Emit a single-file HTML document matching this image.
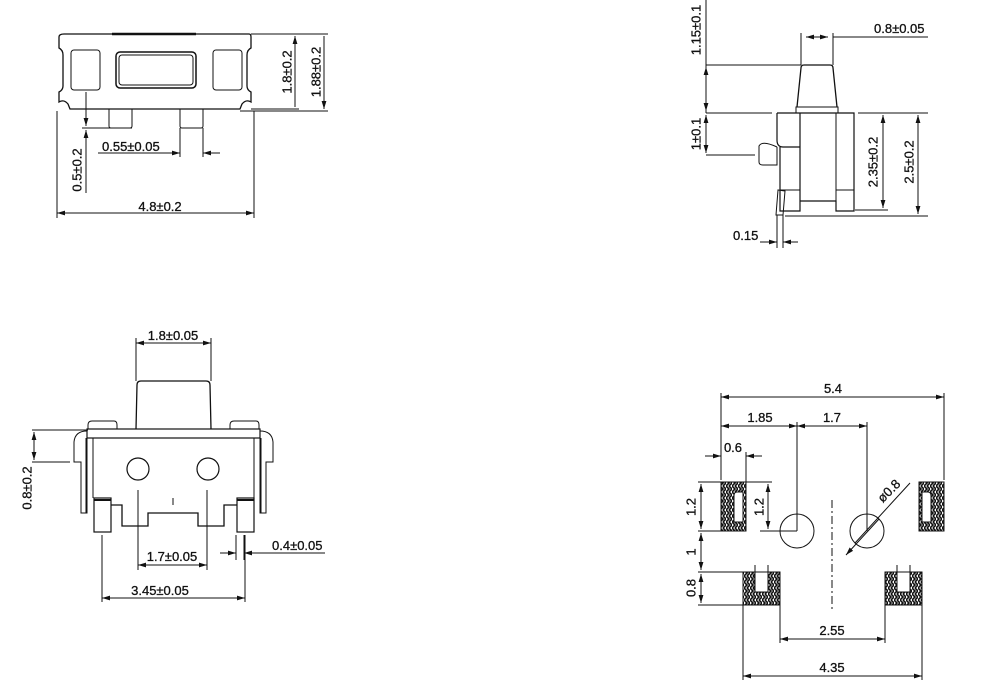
<!DOCTYPE html>
<html><head><meta charset="utf-8"><style>
html,body{margin:0;padding:0;background:#fff;}
svg{display:block;}
text{font-family:"Liberation Sans",sans-serif;font-size:13px;fill:#111;stroke:#111;stroke-width:0.3;}
</style></head><body>
<svg width="985" height="690" viewBox="0 0 985 690" xmlns="http://www.w3.org/2000/svg">
<defs>
<marker id="a" viewBox="0 0 10 6" refX="10" refY="3" markerWidth="8" markerHeight="5" orient="auto-start-reverse" markerUnits="userSpaceOnUse"><path d="M0,0L10,3L0,6z" fill="#111"/></marker>
<pattern id="h" width="6" height="6" patternUnits="userSpaceOnUse"><rect width="6" height="6" fill="#fff"/><path d="M0,0L3,3L0,6M3,0L6,3L3,6" stroke="#111" stroke-width="1.6" fill="none"/></pattern>
</defs>
<g fill="none" stroke="#111" stroke-width="1">
<path d="M64,34 H249 Q251,34 251,37 V48 Q247,50 247,55 V86 Q247,90 251,92 V102 Q246,99 242,104 L240,109 H70 L68,104 Q64,99 59,102 V92 Q63,90 63,86 V55 Q63,50 59,48 V37 Q59,34 64,34z" stroke-width="1.3"/>
<path d="M112,34H196" stroke-width="2.5"/>
<rect x="71" y="50" width="29" height="40" rx="3"/>
<rect x="116" y="52" width="80" height="36" rx="4" stroke-width="1.5"/>
<rect x="119" y="55" width="74" height="30" rx="3"/>
<rect x="213" y="50" width="29" height="40" rx="3"/>
<path d="M109,109V126Q109,128 111,128H130Q132,128 132,126V109M180,109V126Q180,128 182,128H201Q203,128 203,126V109"/>
<path d="M251,34H328M251,109H299M240,111H328"/>
<path d="M295,36V107M324,36V109" marker-start="url(#a)" marker-end="url(#a)"/>
<path d="M82,128H132"/>
<path d="M86,92V126" marker-end="url(#a)"/>
<path d="M86,130V193" marker-start="url(#a)"/>
<path d="M180,128V157M203,128V157"/>
<path d="M98,153H180" marker-end="url(#a)"/>
<path d="M203,153H220" marker-start="url(#a)"/>
<path d="M57,111V218M254,111V218"/>
<path d="M57,213H254" marker-start="url(#a)" marker-end="url(#a)"/>
</g>
<g>
<text x="288" y="72" transform="rotate(-90 288 72)" text-anchor="middle" dominant-baseline="middle">1.8±0.2</text>
<text x="317" y="72" transform="rotate(-90 317 72)" text-anchor="middle" dominant-baseline="middle">1.88±0.2</text>
<text x="78" y="170" transform="rotate(-90 78 170)" text-anchor="middle" dominant-baseline="middle">0.5±0.2</text>
<text x="102" y="151">0.55±0.05</text>
<text x="160" y="211" text-anchor="middle">4.8±0.2</text>
</g>

<g fill="none" stroke="#111" stroke-width="1">
<path d="M797,107 L801,68 Q801,65 804,65 H830 Q833,65 833,68 L837,107" stroke-width="1.3"/>
<rect x="796" y="107" width="42" height="6"/>
<path d="M777,113H854V211H836V201H800V113M777,113V140Q777,147 783,147H800M800,201V211H780V147" stroke-width="1.2"/>
<path d="M836,113V211M836,190H854M780,190H800"/>
<path d="M777,147Q762,140 759,146V162Q759,165 763,165H777V147"/>
<path d="M778,190L776,215H783L785,191z"/>
<path d="M706,65H801M706,113H772M706,155H755M855,210H888M785,216H928M858,113H928M801,33V65M833,33V65M833,37H928"/>
<path d="M806,37H828" marker-start="url(#a)" marker-end="url(#a)"/>
<path d="M706,0V113" />
<path d="M706,67V111" marker-start="url(#a)" marker-end="url(#a)"/>
<path d="M706,115V153" marker-start="url(#a)" marker-end="url(#a)"/>
<path d="M883,115V208" marker-start="url(#a)" marker-end="url(#a)"/>
<path d="M918,115V214" marker-start="url(#a)" marker-end="url(#a)"/>
<path d="M777,215V248M783,215V248"/>
<path d="M760,242H777" marker-end="url(#a)"/>
<path d="M783,242H798" marker-start="url(#a)"/>
</g>
<g>
<text x="697" y="30" transform="rotate(-90 697 30)" text-anchor="middle" dominant-baseline="middle">1.15±0.1</text>
<text x="697" y="134" transform="rotate(-90 697 134)" text-anchor="middle" dominant-baseline="middle">1±0.1</text>
<text x="874" y="162" transform="rotate(-90 874 162)" text-anchor="middle" dominant-baseline="middle">2.35±0.2</text>
<text x="910" y="162" transform="rotate(-90 910 162)" text-anchor="middle" dominant-baseline="middle">2.5±0.2</text>
<text x="874" y="33">0.8±0.05</text>
<text x="733" y="240">0.15</text>
</g>

<g fill="none" stroke="#111" stroke-width="1">
<path d="M136,429 L137,385 Q137,381 141,381 H206 Q210,381 210,385 L211,429" stroke-width="1.3"/>
<rect x="87" y="429" width="173" height="9" stroke-width="1.2"/>
<path d="M88,429V425Q88,421 92,421H114Q117,421 117,425V429M230,429V425Q230,421 234,421H256Q259,421 259,425V429"/>
<path d="M87,431Q75,431 74,442V462H81V513H87V438M93,438V498M260,431Q272,431 273,442V462H266V513H260V438M254,438V498"/>
<path d="M86,438V513M261,438V513"/>
<rect x="94" y="498" width="17" height="34" stroke-width="1.2"/>
<rect x="237" y="498" width="17" height="34" stroke-width="1.2"/>
<path d="M94,500H111M237,500H254" stroke-width="2"/>
<path d="M111,505H122V526H148V513H198V526H224V505H237" stroke-width="1.3"/>
<circle cx="138" cy="469" r="11" stroke-width="1.2"/>
<circle cx="208" cy="469" r="11" stroke-width="1.2"/>
<path d="M173,498V505"/>
<path d="M136,338V381M211,338V381"/>
<path d="M136,343H211" marker-start="url(#a)" marker-end="url(#a)"/>
<path d="M32,430H88M32,462H70"/>
<path d="M34,432V460" marker-start="url(#a)" marker-end="url(#a)"/>
<path d="M138,490V570M207,490V570"/>
<path d="M138,565H207" marker-start="url(#a)" marker-end="url(#a)"/>
<path d="M102,535V602M245,535V602"/>
<path d="M102,598H245" marker-start="url(#a)" marker-end="url(#a)"/>
<path d="M236,535V560M244,535V560"/>
<path d="M220,553H236" marker-end="url(#a)"/>
<path d="M244,553H325" marker-start="url(#a)"/>
</g>
<g>
<text x="173" y="340" text-anchor="middle">1.8±0.05</text>
<text x="28" y="488" transform="rotate(-90 28 488)" text-anchor="middle" dominant-baseline="middle">0.8±0.2</text>
<text x="172" y="561" text-anchor="middle">1.7±0.05</text>
<text x="160" y="595" text-anchor="middle">3.45±0.05</text>
<text x="272" y="550">0.4±0.05</text>
</g>

<g stroke="#111" stroke-width="1">
<rect x="721" y="482" width="25" height="49" fill="url(#h)"/>
<path d="M743,492H737Q734,492 734,496V522H743z" fill="#fff"/>
<rect x="919" y="482" width="25" height="49" fill="url(#h)"/>
<path d="M922,492H928Q931,492 931,496V522H922z" fill="#fff"/>
<rect x="743" y="572" width="37" height="33" fill="url(#h)"/>
<rect x="755" y="572" width="13" height="20" fill="#fff"/>
<rect x="885" y="572" width="37" height="33" fill="url(#h)"/>
<rect x="897" y="572" width="13" height="20" fill="#fff"/>
</g>
<g fill="none" stroke="#111" stroke-width="1">
<path d="M755,565V572M768,565V572M897,565V572M910,565V572"/>
<circle cx="797" cy="531" r="17"/>
<circle cx="867" cy="531" r="17"/>
<path d="M832,500V612" stroke-dasharray="8,3,2,3"/>
<path d="M721,393V480M944,393V480M797,422V531M867,422V531M746,452V482"/>
<path d="M721,397H944" marker-start="url(#a)" marker-end="url(#a)"/>
<path d="M721,426H797" marker-start="url(#a)" marker-end="url(#a)"/>
<path d="M797,426H867" marker-start="url(#a)" marker-end="url(#a)"/>
<path d="M705,456H721" marker-end="url(#a)"/>
<path d="M746,456H762" marker-start="url(#a)"/>
<path d="M698,482H721M698,531H721M698,572H743M698,605H743M746,482H772M760,531H797"/>
<path d="M701,484V529" marker-start="url(#a)" marker-end="url(#a)"/>
<path d="M701,533V570" marker-start="url(#a)" marker-end="url(#a)"/>
<path d="M701,574V603" marker-start="url(#a)" marker-end="url(#a)"/>
<path d="M768,484V529" marker-start="url(#a)" marker-end="url(#a)"/>
<path d="M846,555L879,519" marker-start="url(#a)"/>
<path d="M855,543L910,483"/>
<path d="M780,605V643M885,605V643M743,605V680M922,605V680"/>
<path d="M780,639H885" marker-start="url(#a)" marker-end="url(#a)"/>
<path d="M743,676H922" marker-start="url(#a)" marker-end="url(#a)"/>
</g>
<g>
<text x="833" y="393" text-anchor="middle">5.4</text>
<text x="760" y="422" text-anchor="middle">1.85</text>
<text x="832" y="422" text-anchor="middle">1.7</text>
<text x="733" y="452" text-anchor="middle">0.6</text>
<text x="692" y="507" transform="rotate(-90 692 507)" text-anchor="middle" dominant-baseline="middle">1.2</text>
<text x="760" y="507" transform="rotate(-90 760 507)" text-anchor="middle" dominant-baseline="middle">1.2</text>
<text x="692" y="552" transform="rotate(-90 692 552)" text-anchor="middle" dominant-baseline="middle">1</text>
<text x="692" y="588" transform="rotate(-90 692 588)" text-anchor="middle" dominant-baseline="middle">0.8</text>
<text x="892" y="494" transform="rotate(-45 892 494)" text-anchor="middle">ø0.8</text>
<text x="832" y="635" text-anchor="middle">2.55</text>
<text x="832" y="672" text-anchor="middle">4.35</text>
</g>
</svg>
</body></html>
